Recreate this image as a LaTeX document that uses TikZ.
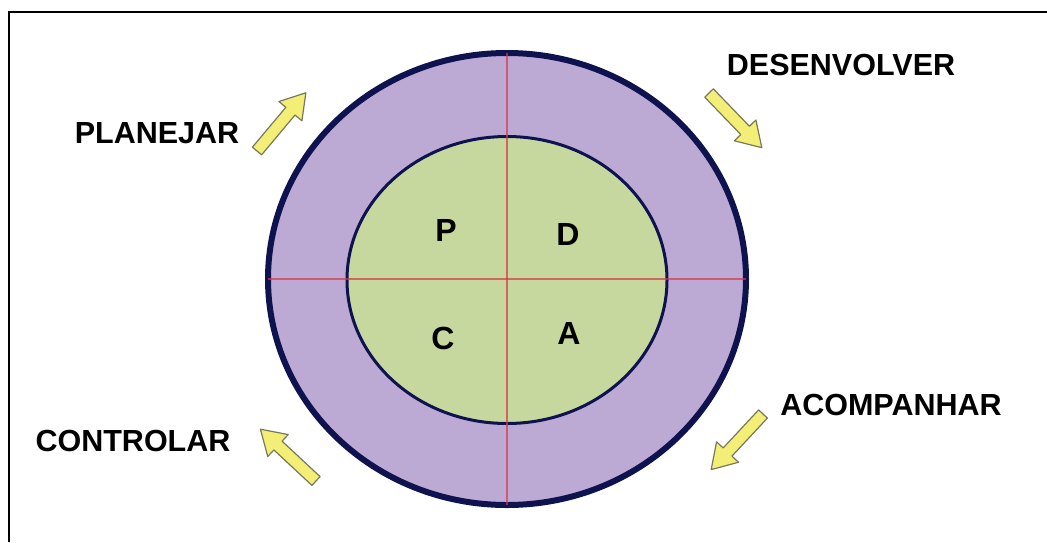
\documentclass[tikz,border=0pt]{standalone}
\usepackage{fontspec}
\setmainfont{Liberation Sans}
\usetikzlibrary{shapes.geometric}

\definecolor{ringfill}{RGB}{188,170,212}
\definecolor{corefill}{RGB}{198,216,158}
\definecolor{rimblue}{RGB}{14,18,78}
\definecolor{crossred}{RGB}{215,55,70}
\definecolor{arrowfill}{RGB}{243,238,118}
\definecolor{arrowedge}{RGB}{120,120,95}

\begin{document}
\begin{tikzpicture}[
    x=1pt, y=-1pt,
    lbl/.style={font=\fontsize{30.5}{36}\selectfont\bfseries, inner sep=0pt},
    ltr/.style={font=\fontsize{32}{38}\selectfont\bfseries, inner sep=0pt},
    band/.style={ellipse, draw=rimblue, inner sep=0pt},
    cross/.style={crossred, opacity=0.7, line width=1.8pt, shorten <=3pt, shorten >=3pt},
    yarrow/.pic={\draw[fill=arrowfill, draw=arrowedge, line width=1.2pt, line join=round]
        (0,-6) -- (52,-6) -- (52,-15) -- (76,0) -- (52,15) -- (52,6) -- (0,6) -- cycle;},
]
\useasboundingbox (0,0) rectangle (1047,542);
% frame
\draw[line width=2pt] (1047,12) -- (9,12) -- (9,542);

% rings
\node[band, fill=ringfill, line width=6pt, minimum width=478pt, minimum height=452pt] (ring) at (507,279) {};
\node[band, fill=corefill, line width=3pt, minimum width=320pt, minimum height=287pt] (core) at (507,280) {};
\draw[cross] (ring.north) -- (ring.south);
\draw[cross] (ring.west) -- (ring.east);

% quadrants
\node[ltr] (p) at (446,230) {P};
\node[ltr] (d) at (568,234) {D};
\node[ltr] (c) at (443,338) {C};
\node[ltr] (a) at (569,333) {A};

% steps
\node[lbl] (plan) at (157,133) {PLANEJAR};
\node[lbl] (desenv) at (841,65) {DESENVOLVER};
\node[lbl] (acomp) at (891,405) {ACOMPANHAR};
\node[lbl] (contr) at (133,441) {CONTROLAR};

\pic[rotate=50] at (257,151) {yarrow};
\pic[rotate=-46] at (709,93) {yarrow};
\pic[rotate=-133] at (763,414) {yarrow};
\pic[rotate=137] at (316,481) {yarrow};
\end{tikzpicture}
\end{document}
